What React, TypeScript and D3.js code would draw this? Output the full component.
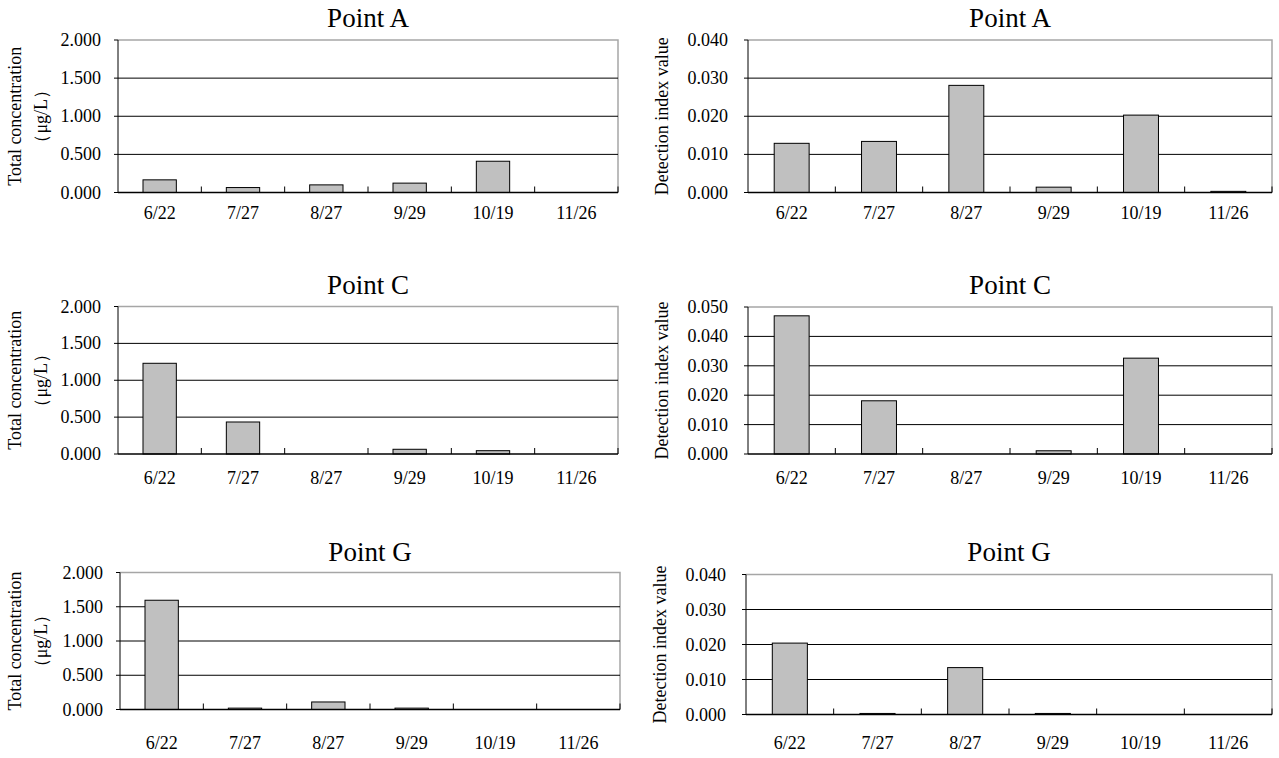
import React, { useEffect, useRef } from 'react';
import * as d3 from 'd3';

// sampling dates
const dates = ['6/22', '7/27', '8/27', '9/29', '10/19', '11/26'];

// total concentration (µg/L)
const concA = [0.166, 0.065, 0.1, 0.123, 0.41, 0];
const concC = [1.23, 0.434, 0, 0.064, 0.045, 0];
const concG = [1.595, 0.02, 0.11, 0.02, 0, 0];

// detection index value
const indexA = [0.0129, 0.0134, 0.0281, 0.0014, 0.0203, 0.0003];
const indexC = [0.047, 0.0181, 0, 0.0011, 0.0326, 0];
const indexG = [0.0204, 0.0003, 0.0134, 0.0003, 0, 0];

const concTicks = [0, 0.5, 1.0, 1.5, 2.0];
const indexTicks4 = [0, 0.01, 0.02, 0.03, 0.04];
const indexTicks5 = [0, 0.01, 0.02, 0.03, 0.04, 0.05];

const FONT = '"Liberation Serif", "Times New Roman", serif';

const panels = [
  { title: 'Point A', values: concA, ticks: concTicks, kind: 'conc', x0: 118, x1: 618, y0: 40, y1: 192.5, titleY: 18, labelY: 213 },
  { title: 'Point A', values: indexA, ticks: indexTicks4, kind: 'index', x0: 748, x1: 1272, y0: 40, y1: 192.5, titleY: 18, labelY: 213 },
  { title: 'Point C', values: concC, ticks: concTicks, kind: 'conc', x0: 118, x1: 618, y0: 306.5, y1: 454, titleY: 285, labelY: 478 },
  { title: 'Point C', values: indexC, ticks: indexTicks5, kind: 'index', x0: 748, x1: 1272, y0: 307, y1: 454, titleY: 285, labelY: 478 },
  { title: 'Point G', values: concG, ticks: concTicks, kind: 'conc', x0: 120, x1: 620, y0: 572.5, y1: 709.5, titleY: 552, labelY: 743 },
  { title: 'Point G', values: indexG, ticks: indexTicks4, kind: 'index', x0: 746, x1: 1272, y0: 574.5, y1: 714.5, titleY: 552, labelY: 743 },
];

function App() {
  const ref = useRef<SVGSVGElement>(null);

  useEffect(() => {
    const svg = d3.select(ref.current);
    svg.selectAll('*').remove();

    panels.forEach((p) => {
      const g = svg.append('g');
      const x = d3.scaleBand().domain(dates).range([p.x0, p.x1]);
      const y = d3.scaleLinear().domain([0, p.ticks[p.ticks.length - 1]]).range([p.y1, p.y0]);

      // title
      g.append('text')
        .attr('x', (p.x0 + p.x1) / 2)
        .attr('y', p.titleY)
        .attr('text-anchor', 'middle')
        .attr('dominant-baseline', 'central')
        .style('font-size', '27px')
        .text(p.title);

      // top / right frame
      g.append('path')
        .attr('d', `M${p.x0},${y(p.ticks[p.ticks.length - 1])}H${p.x1}V${p.y1}`)
        .attr('fill', 'none')
        .attr('stroke', '#a6a6a6')
        .attr('stroke-width', 1.5);

      // grid lines
      g.selectAll('.grid')
        .data(p.ticks.slice(1, -1))
        .join('line')
        .attr('x1', p.x0).attr('x2', p.x1)
        .attr('y1', (d) => y(d)).attr('y2', (d) => y(d))
        .attr('stroke', '#000').attr('stroke-width', 1);

      // bars
      const bw = x.bandwidth() * 0.4;
      g.selectAll('.bar')
        .data(p.values)
        .join('rect')
        .attr('x', (d, i) => (x(dates[i]) as number) + (x.bandwidth() - bw) / 2)
        .attr('y', (d) => y(d))
        .attr('width', bw)
        .attr('height', (d) => y(0) - y(d))
        .attr('fill', '#c0c0c0')
        .attr('stroke', (d) => (d > 0 ? '#000' : 'none'))
        .attr('stroke-width', 1);

      // y axis
      g.append('line')
        .attr('x1', p.x0).attr('x2', p.x0)
        .attr('y1', p.y0).attr('y2', p.y1)
        .attr('stroke', '#000');
      g.selectAll('.ytick')
        .data(p.ticks)
        .join('line')
        .attr('x1', p.x0 - 4).attr('x2', p.x0)
        .attr('y1', (d) => y(d)).attr('y2', (d) => y(d))
        .attr('stroke', '#000');
      g.selectAll('.ylab')
        .data(p.ticks)
        .join('text')
        .attr('x', p.x0 - (p.kind === 'conc' ? 17 : 20))
        .attr('y', (d) => y(d))
        .attr('text-anchor', 'end')
        .attr('dominant-baseline', 'central')
        .style('font-size', '18px')
        .text((d) => d3.format('.3f')(d));

      // x axis
      g.append('line')
        .attr('x1', p.x0).attr('x2', p.x1)
        .attr('y1', p.y1).attr('y2', p.y1)
        .attr('stroke', '#000').attr('stroke-width', 1.5);
      g.selectAll('.xtick')
        .data(dates.slice(1).concat(['end']))
        .join('line')
        .attr('x1', (d) => (d === 'end' ? p.x1 : (x(d) as number)))
        .attr('x2', (d) => (d === 'end' ? p.x1 : (x(d) as number)))
        .attr('y1', p.y1).attr('y2', p.y1 - 6)
        .attr('stroke', '#000');
      g.selectAll('.xlab')
        .data(dates)
        .join('text')
        .attr('x', (d) => (x(d) as number) + x.bandwidth() / 2)
        .attr('y', p.labelY)
        .attr('text-anchor', 'middle')
        .attr('dominant-baseline', 'central')
        .style('font-size', '18px')
        .text((d) => d);

      // axis titles
      const cy = (p.y0 + p.y1) / 2;
      if (p.kind === 'conc') {
        g.append('text')
          .attr('transform', `translate(15,${cy}) rotate(-90)`)
          .attr('text-anchor', 'middle')
          .attr('dominant-baseline', 'central')
          .style('font-size', '18px')
          .text('Total concentration');
        g.append('text')
          .attr('transform', `translate(41,${cy}) rotate(-90)`)
          .attr('text-anchor', 'middle')
          .attr('dominant-baseline', 'central')
          .style('font-size', '18px')
          .text('（μg/L）');
      } else {
        g.append('text')
          .attr('transform', `translate(${p.x0 - 86},${cy}) rotate(-90)`)
          .attr('text-anchor', 'middle')
          .attr('dominant-baseline', 'central')
          .style('font-size', '18px')
          .text('Detection index value');
      }
    });
  }, []);

  return (
    <svg
      ref={ref}
      width={1279}
      height={758}
      style={{ position: 'absolute', left: 0, top: 0, background: '#fff', fontFamily: FONT }}
    />
  );
}

export default App;
